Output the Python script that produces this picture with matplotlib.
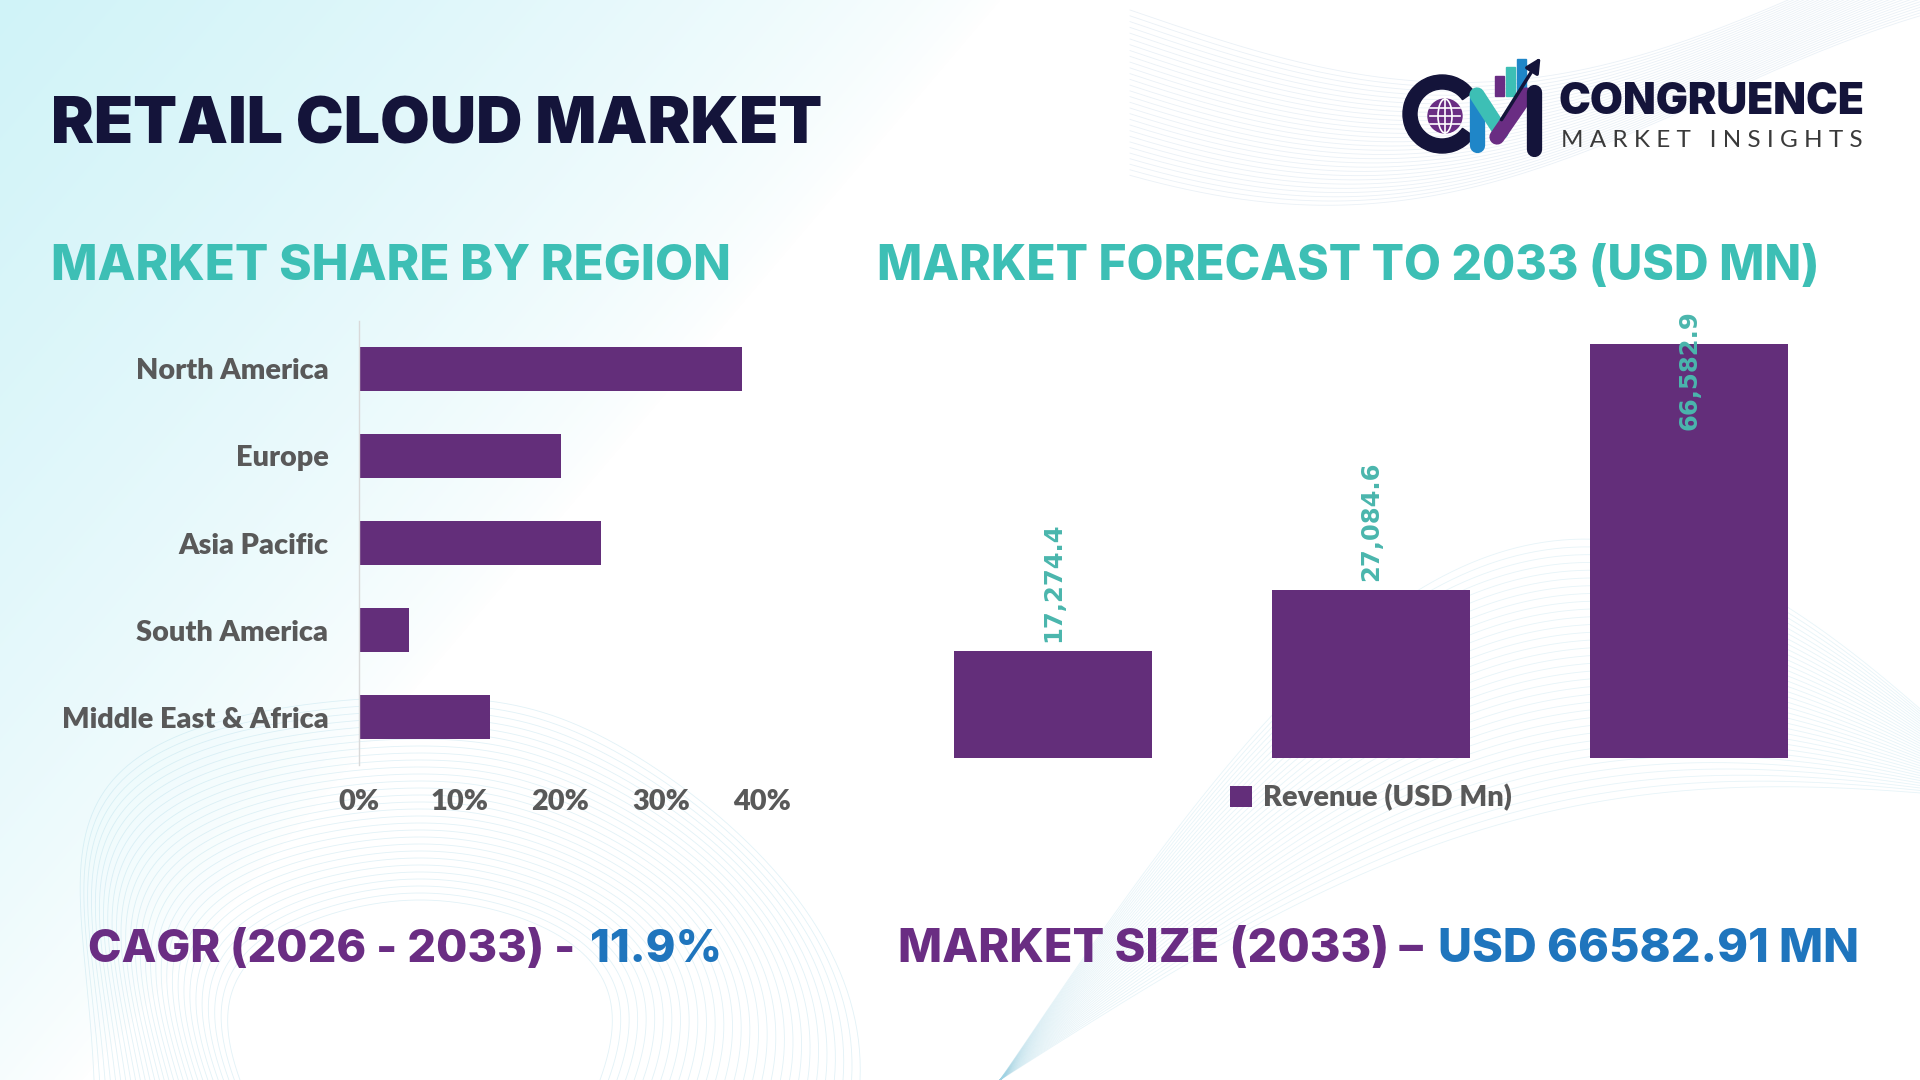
import numpy as np
import matplotlib
matplotlib.use("Agg")
import matplotlib.pyplot as plt
from matplotlib.patches import Rectangle, Circle, Wedge, Ellipse

W, H = 1920, 1080

# data
regions = ["North America", "Europe", "Asia Pacific", "South America", "Middle East & Africa"]
shares = [38, 20, 24, 5, 13]
share_ticks = [0, 10, 20, 30, 40]

revenue = [17274.4, 27084.6, 66582.9]
revenue_series = "Revenue (USD Mn)"

title = "RETAIL CLOUD MARKET"
left_head = "MARKET SHARE BY REGION"
right_head = "MARKET FORECAST TO 2033 (USD MN)"
cagr_parts = ["CAGR (2026 - 2033) -", "11.9%"]
size_parts = ["MARKET SIZE (2033) \u2013", "USD 66582.91 MN"]

PURPLE = "#632e7a"
TEAL = "#3dbfb5"
LABEL_TEAL = "#4ab6ad"
NAVY = "#14143a"
GRAY = "#595959"
TXT_PURPLE = "#6a2d83"
TXT_BLUE = "#1f75bd"

HEAD_FONT = ["Inter", "DejaVu Sans"]
BODY_FONT = ["Lato", "DejaVu Sans"]

fig = plt.figure(figsize=(19.2, 10.8), dpi=100)
renderer = fig.canvas.get_renderer()


def fx(x):
    return x / W


def fy(y):
    return 1 - y / H


# background: cyan wash in the top-left and faint wave lines
bg = fig.add_axes([0, 0, 1, 1], zorder=0)
bg.set_xlim(0, W)
bg.set_ylim(H, 0)
bg.axis("off")
yy, xx = np.mgrid[0:H, 0:W]
f = np.clip(1 - (xx + 0.85 * yy) / 1000.0, 0, 1) ** 0.7
cyan = np.array([208, 243, 248]) / 255.0
img = 1 - f[..., None] * (1 - cyan)
bg.imshow(img, extent=[0, W, H, 0], aspect="auto", zorder=0)

t = np.linspace(0, 1, 300)
for k in range(30):
    # top right band
    x = 1130 + 790 * t
    y = 10 + k * 4 + 90 * np.sin(np.pi * t * 1.1 + k * 0.02) - 40 * t
    bg.plot(x, y, color="#b9cfe3", lw=0.6, alpha=0.3, zorder=1)
for k in range(30):
    # bottom left blob
    a = np.linspace(0, np.pi, 300)
    r = 180 + k * 7
    x = 420 + r * np.cos(a) * (1.0 + 0.15 * np.sin(a * 3 + k * 0.05))
    y = 1080 - r * 1.25 * np.sin(a) * (0.9 + 0.1 * np.cos(a * 2))
    bg.plot(x, y, color="#9fd3e4", lw=0.6, alpha=0.3, zorder=1)
for k in range(35):
    # bottom right sweep
    x = 1000 + 920 * t
    y = 1080 - (120 + k * 8) * np.sin(np.pi * t * 0.9) - 250 * t
    bg.plot(x, y, color="#9fd3e4", lw=0.6, alpha=0.25, zorder=1)

# logo mark
bg.add_patch(Wedge((1442, 114), 39, 35, 325, width=14, color=NAVY, zorder=3))
bg.add_patch(Circle((1445, 116), 17, color="#6a2d83", zorder=4))
for dy in (-8, 0, 8):
    bg.plot([1430, 1460], [116 + dy, 116 + dy], color="white", lw=1.2, zorder=5)
bg.add_patch(Ellipse((1445, 116), 14, 34, fill=False, ec="white", lw=1.2, zorder=5))
bg.plot([1445, 1445], [99, 133], color="white", lw=1.2, zorder=5)
bg.plot([1477, 1477], [98, 145], color="#1f86c8", lw=11, solid_capstyle="round", zorder=4)
bg.plot([1477, 1501], [95, 132], color="#3dbfb5", lw=11, solid_capstyle="round", zorder=5)
bg.plot([1497, 1526], [137, 95], color="#6a2d83", lw=11, solid_capstyle="round", zorder=6)
bg.plot([1534, 1534], [92, 149], color=NAVY, lw=11, solid_capstyle="round", zorder=6)
bg.add_patch(Rectangle((1495, 76), 9, 20, color="#6a2d83", zorder=3))
bg.add_patch(Rectangle((1506, 67), 9, 29, color="#3dbfb5", zorder=3))
bg.add_patch(Rectangle((1517, 59), 9, 37, color="#1f86c8", zorder=3))
bg.annotate("", xy=(1542, 55), xytext=(1500, 122),
            arrowprops=dict(arrowstyle="-|>", color=NAVY, lw=2.5, mutation_scale=22), zorder=7)


def fit_text(x, y, s, width, size=30, **kw):
    tx = fig.text(fx(x), fy(y), s, fontsize=size, va="baseline", ha="left", zorder=5, **kw)
    w = tx.get_window_extent(renderer).width
    tx.set_fontsize(size * width / w)
    return tx


def fit_parts(x, y, parts, colors, width, size=30, gap=0.3, **kw):
    texts = [fig.text(0, fy(y), s, color=c, fontsize=size, va="baseline", ha="left", zorder=5, **kw)
             for s, c in zip(parts, colors)]
    widths = [tt.get_window_extent(renderer).width for tt in texts]
    gap_px = gap * size * 100 / 72
    k = width / (sum(widths) + gap_px * (len(texts) - 1))
    cur = x
    for tt, w in zip(texts, widths):
        tt.set_fontsize(size * k)
        tt.set_x(fx(cur))
        cur += w * k + gap_px * k


fit_text(51, 144, title, 772, color=NAVY, family=HEAD_FONT, weight="black")
fit_text(51, 280, left_head, 681, color=TEAL, family=HEAD_FONT, weight="heavy")
fit_text(877, 280, right_head, 943, color=TEAL, family=HEAD_FONT, weight="heavy")
fit_text(1558, 114, "CONGRUENCE", 306, color=NAVY, family=HEAD_FONT, weight="black")
fit_text(1561, 147, "M A R K E T   I N S I G H T S", 300,
         color="#3a3a3a", family=BODY_FONT, weight="normal")
fit_parts(88, 962, cagr_parts, [TXT_PURPLE, TXT_BLUE], 634, family=HEAD_FONT, weight="heavy")
fit_parts(898, 962, size_parts, [TXT_PURPLE, TXT_BLUE], 961, family=HEAD_FONT, weight="heavy")

# left chart: market share by region
ax1 = fig.add_axes([fx(359), fy(765), 403 / W, 444 / H], zorder=2)
ax1.patch.set_alpha(0)
ypos = np.arange(len(regions))
ax1.barh(ypos, shares, height=0.5, color=PURPLE)
ax1.set_ylim(len(regions) - 0.45, -0.55)
ax1.set_xlim(0, share_ticks[-1])
ax1.set_yticks(ypos)
ax1.set_yticklabels(regions, fontsize=20.8, color=GRAY, weight="heavy", family=BODY_FONT)
ax1.set_xticks(share_ticks)
ax1.set_xticklabels([f"{v}%" for v in share_ticks], fontsize=20.8, color=GRAY,
                    weight="heavy", family=BODY_FONT)
ax1.tick_params(axis="y", length=0, pad=22)
ax1.tick_params(axis="x", length=0, pad=17)
for s in ("top", "right", "bottom"):
    ax1.spines[s].set_visible(False)
ax1.spines["left"].set_color("#d9d9d9")
ax1.spines["left"].set_linewidth(1)

# right chart: forecast
ax2 = fig.add_axes([fx(894), fy(758), 954 / W, 435 / H], zorder=2)
ax2.patch.set_alpha(0)
xpos = np.arange(len(revenue))
ymax = 70000
bars = ax2.bar(xpos, revenue, width=0.62, color=PURPLE, label=revenue_series)
ax2.set_xlim(-0.5, len(revenue) - 0.5)
ax2.set_ylim(0, ymax)
ax2.set_xticks([])
ax2.set_yticks([])
for s in ax2.spines.values():
    s.set_visible(False)
for x, v in zip(xpos, revenue):
    lab = f"{v:,.1f}"
    if v / ymax > 0.75:
        ax2.annotate(lab, xy=(x, 1.0), xycoords=("data", "axes fraction"),
                     xytext=(0, 9), textcoords="offset points", rotation=90,
                     ha="center", va="top", fontsize=17.5, color=LABEL_TEAL,
                     weight="bold", family="DejaVu Sans")
    else:
        ax2.annotate(lab, xy=(x, v), xytext=(0, 6), textcoords="offset points",
                     rotation=90, ha="center", va="bottom", fontsize=17.5,
                     color=LABEL_TEAL, weight="bold", family="DejaVu Sans")
leg = ax2.legend(loc="upper center", bbox_to_anchor=(0.5, 0.0), frameon=False,
                 handlelength=0.75, handleheight=0.75, handletextpad=0.4,
                 prop={"family": BODY_FONT, "weight": "heavy", "size": 21})
for tx in leg.get_texts():
    tx.set_color(GRAY)

fig.savefig("out.png", dpi=100)
